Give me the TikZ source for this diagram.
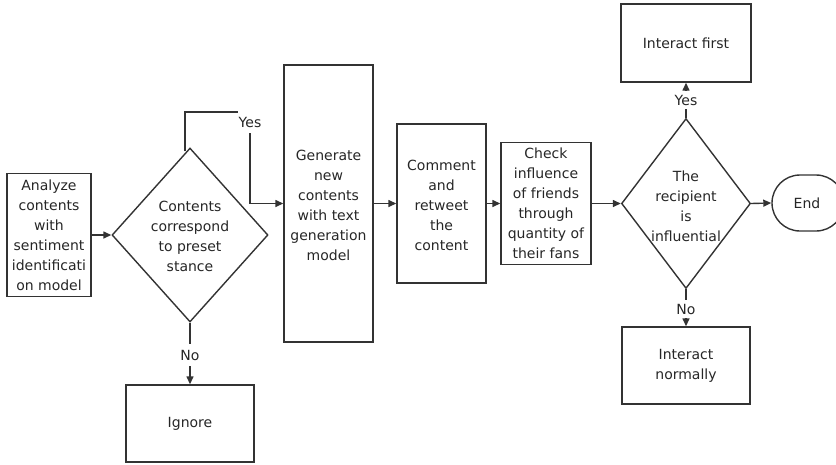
\documentclass[tikz,border=0pt]{standalone}
\usepackage{fontspec}
\setmainfont{DejaVu Sans}
\usetikzlibrary{shapes.geometric,shapes.misc,arrows.meta}
\definecolor{linec}{HTML}{333333}
\definecolor{txtc}{HTML}{262626}
\tikzset{
  box/.style={draw=linec, line width=1.4pt, rectangle, inner sep=0pt},
  decision/.style={draw=linec, line width=1.4pt, diamond, inner sep=0pt},
  term/.style={draw=linec, line width=1.4pt, rounded rectangle, inner sep=0pt},
  txt/.style={text=txtc, align=center, inner sep=0pt, font=\fontsize{14}{20}\selectfont},
  lbl/.style={text=txtc, fill=white, inner sep=1pt, minimum height=22pt, font=\fontsize{14}{20}\selectfont},
  conn/.style={draw=linec, line width=1.4pt, -{Triangle[length=8pt,width=7pt]}},
  plain/.style={draw=linec, line width=1.4pt}
}
\begin{document}
\begin{tikzpicture}[x=1pt,y=-1pt]
\useasboundingbox (0,0) rectangle (836,464);
% boxes
\node[box, minimum width=84pt, minimum height=123pt] (ana) at (49,235) {};
\node[txt] (anat) at (ana.center) {Analyze\\contents\\with\\sentiment\\identificati\\on model};
\node[decision, minimum width=156pt, minimum height=174pt] (d1) at (190,235) {};
\node[txt] (d1t) at (190,236) {Contents\\correspond\\to preset\\stance};
\node[box, minimum width=128pt, minimum height=77pt] (ign) at (190,423.5) {};
\node[txt] (ignt) at (ign.center) {Ignore};
\node[box, minimum width=89pt, minimum height=277pt] (gen) at (328.5,203.5) {};
\node[txt] (gent) at (328.5,205) {Generate\\new\\contents\\with text\\generation\\model};
\node[box, minimum width=89pt, minimum height=159pt] (com) at (441.5,203.5) {};
\node[txt] (comt) at (441.5,205) {Comment\\and\\retweet\\the\\content};
\node[box, minimum width=90pt, minimum height=122pt] (chk) at (546,203.5) {};
\node[txt] (chkt) at (546,203.5) {Check\\influence\\of friends\\through\\quantity of\\their fans};
\node[decision, minimum width=129pt, minimum height=170pt] (d2) at (686,203.5) {};
\node[txt] (d2t) at (686,206) {The\\recipient\\is\\influential};
\node[box, minimum width=130pt, minimum height=78pt] (first) at (686,43) {};
\node[txt] (firstt) at (first.center) {Interact first};
\node[box, minimum width=128pt, minimum height=77pt] (norm) at (686,365.5) {};
\node[txt] (normt) at (norm.center) {Interact\\normally};
\node[term, minimum width=72pt, minimum height=56pt] (end) at (808,203) {};
\node[txt] (endt) at (807,203) {End};
% connectors
\draw[conn] (ana.east) -- (d1.west);
\coordinate (ytop) at (250,112);
\draw[conn] ([xshift=-5pt,yshift=-4pt]d1.north) |- (ytop) |- (gen.west);
\node[lbl] (yes1) at (250,122) {Yes};
\draw[conn] (d1.south) -- (ign.north);
\node[lbl] (no1) at (190,355) {No};
\draw[conn] (gen.east) -- (com.west);
\draw[conn] (com.east) -- (chk.west);
\draw[conn] (chk.east) -- (d2.west);
\draw[conn] (d2.east) -- (end.west);
\draw[conn] (d2.north) -- (first.south);
\node[lbl, minimum height=18pt] (yes2) at (686,100) {Yes};
\draw[conn] (d2.south) -- (norm.north);
\node[lbl, minimum height=18pt] (no2) at (686,309) {No};
\end{tikzpicture}
\end{document}
